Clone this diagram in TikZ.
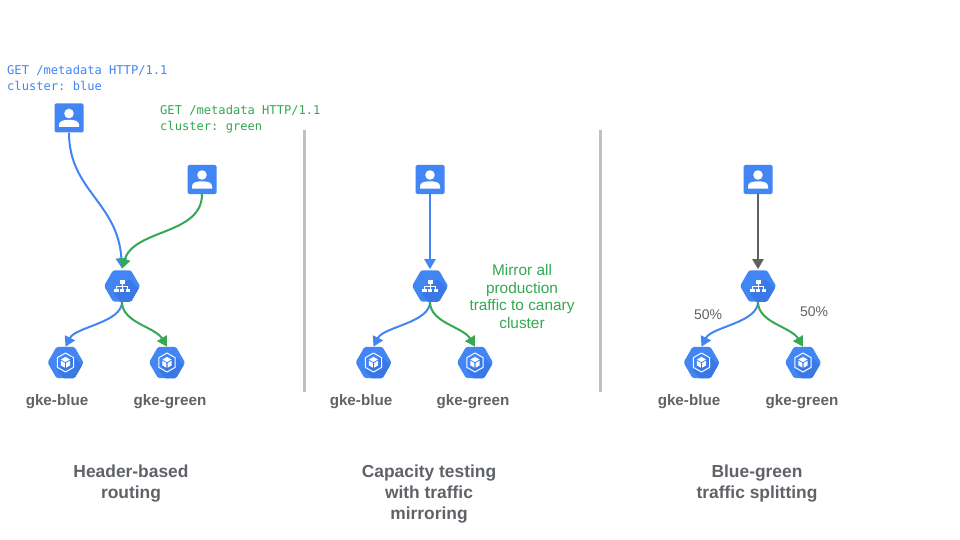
\documentclass[tikz,border=0pt]{standalone}
\usepackage{fontspec}
\usetikzlibrary{shapes.geometric,arrows.meta,calc}
\setmainfont{Liberation Sans}
\setmonofont{DejaVu Sans Mono}
\definecolor{gblue}{HTML}{4285F4}
\definecolor{gshade}{HTML}{3B78E7}
\definecolor{ggreen}{HTML}{34A853}
\definecolor{ggrey}{HTML}{5F6368}
\definecolor{gdark}{HTML}{616161}
\definecolor{gline}{HTML}{BDC1C6}
\tikzset{
  x=1pt,y=-1pt,
  hexnode/.style={regular polygon,regular polygon sides=6,fill=gblue,minimum size=36pt,inner sep=0pt,rounded corners=1.5pt},
  usernode/.style={fill=gblue,rounded corners=1.5pt,minimum size=29pt,inner sep=0pt},
  conn/.style={line width=2pt,-{Triangle[length=10pt,width=11pt]}},
  bluec/.style={conn,draw=gblue},
  greenc/.style={conn,draw=ggreen},
  darkc/.style={conn,draw=gdark},
  divider/.style={draw=gline,line width=3pt},
  caption/.style={font=\bfseries\fontsize{17.4}{21}\selectfont,text=ggrey,align=center},
  gkelabel/.style={font=\bfseries\fontsize{15.2}{17}\selectfont,text=ggrey},
  pct/.style={font=\fontsize{14}{17}\selectfont,text=ggrey},
  code/.style={font=\ttfamily\fontsize{12.1}{16}\selectfont,align=left,anchor=north west,inner sep=0pt},
}
% user icon box
\newcommand\userbox[3]{%
  \node[usernode] (#1) at (#2,#3) {};
  \fill[white] (#2,#3-4.5) circle (4.8);
  \fill[white] (#2-10,#3+9) -- (#2-10,#3+6.5) .. controls (#2-10,#3+3) and (#2-5,#3+1.8) .. (#2,#3+1.8)
     .. controls (#2+5,#3+1.8) and (#2+10,#3+3) .. (#2+10,#3+6.5) -- (#2+10,#3+9) -- cycle;
}
% hexagon with the folded shade
\newcommand\hexbase[3]{%
  \node[hexnode] (#1) at (#2,#3) {};
  \begin{scope}
    \clip[rounded corners=1.5pt] (#1.corner 1) -- (#1.corner 2) -- (#1.corner 3) -- (#1.corner 4) -- (#1.corner 5) -- (#1.corner 6) -- cycle;
    \fill[gshade] (#2+7,#3-7) -- (#2+30,#3+16) -- (#2+10,#3+30) -- (#2-8,#3+8) -- cycle;
  \end{scope}
}
% load balancer hexagon
\newcommand\lbhex[3]{%
  \hexbase{#1}{#2}{#3}
  \fill[white] (#2-2.5,#3-6) rectangle (#2+2.5,#3-2.5);
  \draw[white,line width=0.8pt] (#2,#3-2.5) -- (#2,#3+2.5) (#2-5.5,#3+2.5) -- (#2-5.5,#3) -- (#2+5.5,#3) -- (#2+5.5,#3+2.5);
  \fill[white] (#2-8,#3+2.5) rectangle (#2-3.5,#3+6);
  \fill[white] (#2-2.2,#3+2.5) rectangle (#2+2.2,#3+6);
  \fill[white] (#2+3.5,#3+2.5) rectangle (#2+8,#3+6);
}
% gke hexagon
\newcommand\gkehex[3]{%
  \hexbase{#1}{#2}{#3}
  \draw[white,line width=1pt,line join=round] (#2,#3-9.5) -- (#2+8.2,#3-4.8) -- (#2+8.2,#3+4.8) -- (#2,#3+9.5) -- (#2-8.2,#3+4.8) -- (#2-8.2,#3-4.8) -- cycle;
  \fill[white] (#2,#3-5.6) -- (#2+4.6,#3-3) -- (#2,#3-0.4) -- (#2-4.6,#3-3) -- cycle;
  \fill[white] (#2-4.6,#3-1.8) -- (#2-0.6,#3+0.5) -- (#2-0.6,#3+5.2) -- (#2-4.6,#3+2.9) -- cycle;
  \fill[white] (#2+4.6,#3-1.8) -- (#2+0.6,#3+0.5) -- (#2+0.6,#3+5.2) -- (#2+4.6,#3+2.9) -- cycle;
}
\begin{document}
\begin{tikzpicture}
\useasboundingbox (0,0) rectangle (960,540);
\fill[white] (0,0) rectangle (960,540);

% dividers
\coordinate (d1a) at (304,130); \coordinate (d1b) at (304,392);
\coordinate (d2a) at (600,130); \coordinate (d2b) at (600,392);
\draw[divider] (d1a) -- (d1b);
\draw[divider] (d2a) -- (d2b);

% panel 1
\node[code,text=gblue] (req1) at (7,65) {GET /metadata HTTP/1.1\\cluster: blue};
\node[code,text=ggreen] (req2) at (160,105) {GET /metadata HTTP/1.1\\cluster: green};
\userbox{ua}{69}{118}
\userbox{ub}{202}{179.5}
\lbhex{lba}{122}{286}
\gkehex{ba}{65.5}{362.5}
\gkehex{ga}{167}{362.5}
\draw[bluec] (ua.south) .. controls +(0,58) and +(-4,-66) .. ($(lba.north)+(0,-2)$);
\draw[greenc] (ub.south) .. controls +(0,41) and +(12,-40) .. ($(lba.north)+(0,-1.5)$);
\draw[bluec] (lba.south) .. controls +(0,21) and +(10,-20) .. (ba.north);
\draw[greenc] (lba.south) .. controls +(0,21) and +(-12,-20) .. (ga.north);
\node[gkelabel] (lbla) at (57,402) {gke-blue};
\node[gkelabel] (lbga) at (170,402) {gke-green};
\node[caption] (capa) at (131,483.5) {Header-based\\routing};

% panel 2
\userbox{uc}{430}{179.5}
\lbhex{lbb}{430}{286}
\gkehex{bb}{373.5}{362.5}
\gkehex{gb}{475}{362.5}
\draw[bluec] (uc.south) -- ($(lbb.north)+(0,-1)$);
\draw[bluec] (lbb.south) .. controls +(0,21) and +(10,-20) .. (bb.north);
\draw[greenc] (lbb.south) .. controls +(0,21) and +(-12,-20) .. (gb.north);
\node[gkelabel] (lblb) at (361,402) {gke-blue};
\node[gkelabel] (lbgb) at (473,402) {gke-green};
\node[font=\fontsize{15.4}{17.6}\selectfont,text=ggreen,align=center] (mirror) at (522,296.5) {Mirror all\\production\\traffic to canary\\cluster};
\node[caption] (capb) at (429,494) {Capacity testing\\with traffic\\mirroring};

% panel 3
\userbox{ud}{758}{179.5}
\lbhex{lbc}{758}{286}
\gkehex{bc}{701.5}{362.5}
\gkehex{gc}{803}{362.5}
\draw[darkc] (ud.south) -- ($(lbc.north)+(0,-1)$);
\draw[bluec] (lbc.south) .. controls +(0,21) and +(10,-20) .. (bc.north);
\draw[greenc] (lbc.south) .. controls +(0,21) and +(-12,-20) .. (gc.north);
\node[pct] (pa) at (708,315) {50\%};
\node[pct] (pb) at (814,312) {50\%};
\node[gkelabel] (lblc) at (689,402) {gke-blue};
\node[gkelabel] (lbgc) at (802,402) {gke-green};
\node[caption] (capc) at (757,483.5) {Blue-green\\traffic splitting};
\end{tikzpicture}
\end{document}
